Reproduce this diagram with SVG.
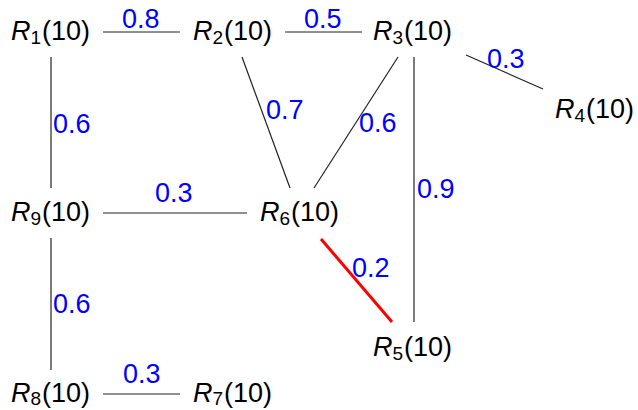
<svg xmlns="http://www.w3.org/2000/svg" width="638" height="410" viewBox="0 0 638 410">
<style>
.n{font-family:"Liberation Sans",Arial,sans-serif;font-size:27px;fill:#000}
.n .r{font-style:italic}
.n .s{font-size:19px}
.l{font-family:"Liberation Sans",Arial,sans-serif;font-size:27px;fill:#0000ff}
.e{stroke:#222;stroke-width:1.2;fill:none}
.red{stroke:#ff0000;stroke-width:3;fill:none}
</style>
<rect width="638" height="410" fill="#fff"/>
<g id="connectors">
<line class="e" x1="103" y1="32" x2="180" y2="32"/>
<line class="e" x1="285" y1="32" x2="362" y2="32"/>
<line class="e" x1="51" y1="57" x2="51" y2="188"/>
<line class="e" x1="242" y1="57" x2="290" y2="188"/>
<line class="e" x1="398" y1="57" x2="314" y2="188"/>
<line class="e" x1="414" y1="57" x2="414" y2="322"/>
<line class="e" x1="466" y1="55" x2="543" y2="89"/>
<line class="e" x1="103" y1="213" x2="247" y2="213"/>
<line class="red" x1="321" y1="239" x2="392" y2="322"/>
<line class="e" x1="51" y1="238" x2="51" y2="370"/>
<line class="e" x1="103" y1="394" x2="180" y2="394"/>
<text class="l" x="122" y="28">0.8</text>
<text class="l" x="304" y="28">0.5</text>
<text class="l" x="53" y="133">0.6</text>
<text class="l" x="266" y="119">0.7</text>
<text class="l" x="359" y="132">0.6</text>
<text class="l" x="417" y="198">0.9</text>
<text class="l" x="487" y="68">0.3</text>
<text class="l" x="155" y="202">0.3</text>
<text class="l" x="352" y="277">0.2</text>
<text class="l" x="53" y="313">0.6</text>
<text class="l" x="123" y="383">0.3</text>
</g>
<g id="R1"><text class="n" x="11" y="40"><tspan class="r">R</tspan><tspan class="s" dy="4">1</tspan><tspan dy="-4" dx="1">(10)</tspan></text></g>
<g id="R2"><text class="n" x="193" y="40"><tspan class="r">R</tspan><tspan class="s" dy="4">2</tspan><tspan dy="-4" dx="1">(10)</tspan></text></g>
<g id="R3"><text class="n" x="373" y="40"><tspan class="r">R</tspan><tspan class="s" dy="4">3</tspan><tspan dy="-4" dx="1">(10)</tspan></text></g>
<g id="R4"><text class="n" x="555" y="118"><tspan class="r">R</tspan><tspan class="s" dy="4">4</tspan><tspan dy="-4" dx="1">(10)</tspan></text></g>
<g id="R9"><text class="n" x="11" y="221"><tspan class="r">R</tspan><tspan class="s" dy="4">9</tspan><tspan dy="-4" dx="1">(10)</tspan></text></g>
<g id="R6"><text class="n" x="260" y="221"><tspan class="r">R</tspan><tspan class="s" dy="4">6</tspan><tspan dy="-4" dx="1">(10)</tspan></text></g>
<g id="R5"><text class="n" x="373" y="356"><tspan class="r">R</tspan><tspan class="s" dy="4">5</tspan><tspan dy="-4" dx="1">(10)</tspan></text></g>
<g id="R8"><text class="n" x="11" y="402"><tspan class="r">R</tspan><tspan class="s" dy="3">8</tspan><tspan dy="-3" dx="1">(10)</tspan></text></g>
<g id="R7"><text class="n" x="193" y="402"><tspan class="r">R</tspan><tspan class="s" dy="3">7</tspan><tspan dy="-3" dx="1">(10)</tspan></text></g>
</svg>
